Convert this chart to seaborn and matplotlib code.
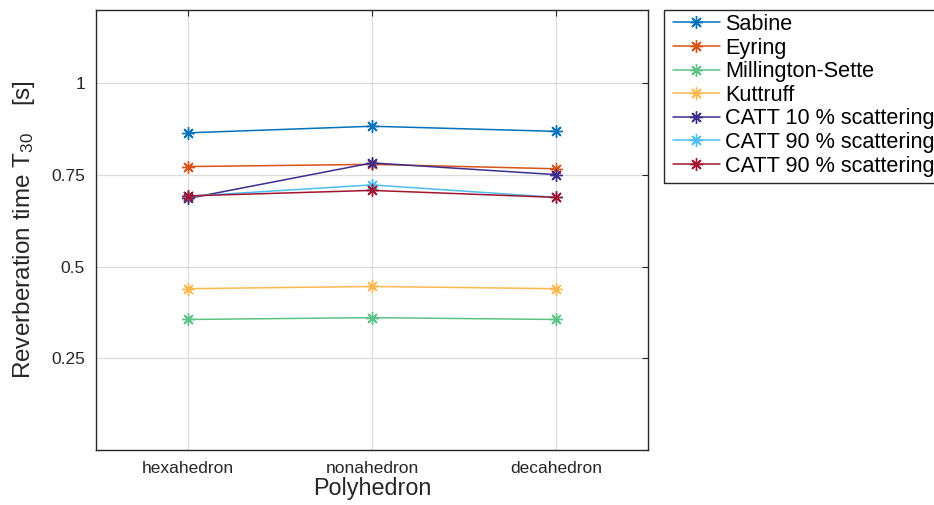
import matplotlib
matplotlib.use("Agg")
import matplotlib.pyplot as plt
from matplotlib.patches import Rectangle
import seaborn as sns
import pandas as pd

categories = ["hexahedron", "nonahedron", "decahedron"]
series_names = ["Sabine", "Eyring", "Millington-Sette", "Kuttruff",
                "CATT 10 % scattering", "CATT 90 % scattering", "CATT 90 % scattering"]
sabine = [0.865, 0.883, 0.869]
eyring = [0.773, 0.779, 0.767]
millington = [0.356, 0.361, 0.356]
kuttruff = [0.440, 0.446, 0.440]
catt10 = [0.686, 0.783, 0.751]
catt90a = [0.692, 0.723, 0.689]
catt90b = [0.693, 0.708, 0.689]
series_values = [sabine, eyring, millington, kuttruff, catt10, catt90a, catt90b]
colors = ["#0072BD", "#D95319", "#5CC285", "#FDB94E", "#3C2E8E", "#4DBEEE", "#A2142F"]
yticks = [0.25, 0.5, 0.75, 1.0]
ytick_labels = ["0.25", "0.5", "0.75", "1"]

sns.set_style("white")
plt.rcParams['font.family'] = ['Liberation Sans', 'DejaVu Sans']
plt.rcParams['mathtext.fontset'] = 'custom'
plt.rcParams['mathtext.rm'] = 'Liberation Sans'
plt.rcParams['mathtext.it'] = 'Liberation Sans'

fig = plt.figure(figsize=(9.34, 5.05), dpi=100)
ax = fig.add_axes([96/934, 55/505, (648-96)/934, (450-10)/505])

for name, vals, c in zip(series_names, series_values, colors):
    df = pd.DataFrame({"Polyhedron": categories, "T30": vals})
    sns.lineplot(data=df, x="Polyhedron", y="T30", ax=ax, color=c,
                 marker=(8, 2, 0), markersize=9, markeredgecolor=c,
                 markeredgewidth=1.0, linewidth=1.1, label=name, sort=False)

ax.set_xlim(-0.5, 2.5)
ax.set_ylim(0, 1.2)
ax.set_yticks(yticks)
ax.set_yticklabels(ytick_labels)
ax.set_xticks([0, 1, 2])
ax.set_xticklabels(categories)
ax.grid(True, color="#dcdcdc", linewidth=0.9)
ax.set_axisbelow(True)
ax.tick_params(direction="in", length=4, width=0.8, colors="#262626",
               labelsize=12.5, top=True, right=True, pad=8)
ax.tick_params(axis="x", pad=8)
for s in ax.spines.values():
    s.set_color("#262626")
    s.set_linewidth(1.0)

ax.set_xlabel("Polyhedron", fontsize=16.8, color="#262626", labelpad=1)
ax.set_ylabel(r"Reverberation time T$_{30}$    [s]", fontsize=17.5, color="#262626", labelpad=10)

leg = ax.legend(loc="upper left", bbox_to_anchor=(673/934, 1 - 14/505),
                bbox_transform=fig.transFigure, fontsize=15.6, frameon=False,
                handlelength=2.15, handletextpad=0.25, labelspacing=0.12,
                borderpad=0, borderaxespad=0)
for t in leg.get_texts():
    t.set_color("black")
fig.patches.append(Rectangle((664/934, (505-183)/505), (945-664)/934, 173/505,
                             transform=fig.transFigure, fill=False,
                             edgecolor="#262626", linewidth=1.0, clip_on=False))

fig.savefig("out.png", dpi=100)
